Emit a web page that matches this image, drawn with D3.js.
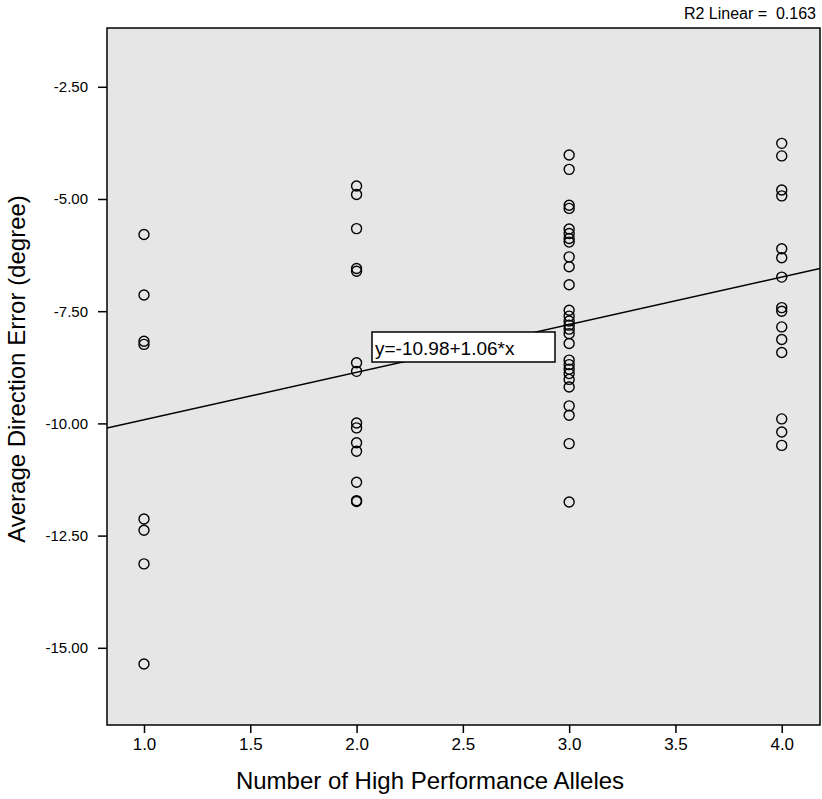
<!DOCTYPE html>
<html>
<head>
<meta charset="utf-8">
<script src="https://cdn.jsdelivr.net/npm/d3@7"></script>
<style>
  body { margin: 0; background: #fff; }
</style>
</head>
<body>
<svg id="viz"></svg>
<script>
/* Data */

const alleles1 = [-5.79, -7.14, -8.17, -8.24, -12.13, -12.38, -13.13, -15.36];
const alleles2 = [-4.71, -4.90, -5.66, -6.55, -6.61, -8.65, -8.84, -9.99, -10.10,
                  -10.43, -10.62, -11.31, -11.72, -11.74];
const alleles3 = [-4.02, -4.34, -5.14, -5.21, -5.67, -5.77, -5.88, -5.96, -6.29,
                  -6.51, -6.91, -7.48, -7.61, -7.72, -7.81, -7.90, -8.00, -8.22,
                  -8.59, -8.69, -8.79, -8.89, -9.02, -9.19, -9.61, -9.82, -10.45,
                  -11.75];
const alleles4 = [-3.76, -4.04, -4.80, -4.93, -6.11, -6.31, -6.74, -7.42, -7.50,
                  -7.85, -8.13, -8.42, -9.90, -10.19, -10.49];

const groups = [1, 2, 3, 4];
const xTicks = [1.0, 1.5, 2.0, 2.5, 3.0, 3.5, 4.0];
const yTicks = [-2.5, -5.0, -7.5, -10.0, -12.5, -15.0];

const intercept = -10.98;
const slope = 1.06;
const r2 = 0.163;

const points = [alleles1, alleles2, alleles3, alleles4]
    .flatMap((vals, i) => vals.map(v => ({x: groups[i], y: v})));

/* Environment */

const width = 822;
const height = 799;
const plot = {left: 107, top: 28, right: 820, bottom: 725};

// plain hyphen for negatives, like the original
const fmt = f => d => d3.format(f)(d).replace('\u2212', '-');

const svg = d3.select('#viz')
    .attr('width', width)
    .attr('height', height)
    .attr('font-family', 'Liberation Sans, Arial, sans-serif');

/* Scales */

const x = d3.scaleLinear()
    .domain([0.826, 4.18])
    .range([plot.left, plot.right]);

const y = d3.scaleLinear()
    .domain([-16.72, -1.19])
    .range([plot.bottom, plot.top]);

/* Plot area */

svg.append('rect')
    .attr('x', plot.left)
    .attr('y', plot.top)
    .attr('width', plot.right - plot.left)
    .attr('height', plot.bottom - plot.top)
    .attr('fill', '#e6e6e6');

/* Axis */

const gX = svg.append('g')
    .attr('transform', `translate(0,${plot.bottom})`)
    .call(d3.axisBottom(x).tickValues(xTicks).tickFormat(fmt('.1f')).tickSize(8).tickSizeOuter(0).tickPadding(5));

gX.select('.domain').remove();
gX.selectAll('line').attr('stroke-width', 1.5);
gX.selectAll('text')
    .attr('font-size', 17)
    .attr('fill', '#000');

const gY = svg.append('g')
    .attr('transform', `translate(${plot.left},0)`)
    .call(d3.axisLeft(y).tickValues(yTicks).tickFormat(fmt('.2f')).tickSize(9).tickSizeOuter(0).tickPadding(10));

gY.select('.domain').remove();
gY.selectAll('line').attr('stroke-width', 1.5);
gY.selectAll('text')
    .attr('font-size', 15)
    .attr('fill', '#000');

/* Regression line */

svg.append('clipPath').attr('id', 'clip')
    .append('rect')
    .attr('x', plot.left)
    .attr('y', plot.top)
    .attr('width', plot.right - plot.left)
    .attr('height', plot.bottom - plot.top);

const xd = x.domain();
svg.append('line')
    .attr('clip-path', 'url(#clip)')
    .attr('x1', x(xd[0]))
    .attr('y1', y(intercept + slope * xd[0]))
    .attr('x2', x(xd[1]))
    .attr('y2', y(intercept + slope * xd[1]))
    .attr('stroke', '#000')
    .attr('stroke-width', 1.5);

/* Points */

svg.append('g')
    .selectAll('circle')
    .data(points)
    .join('circle')
    .attr('cx', d => x(d.x))
    .attr('cy', d => y(d.y))
    .attr('r', 5)
    .attr('fill', 'none')
    .attr('stroke', '#000')
    .attr('stroke-width', 1.4);

/* Equation label */

const eq = svg.append('g').attr('transform', 'translate(372,332)');
eq.append('rect')
    .attr('width', 183)
    .attr('height', 30)
    .attr('fill', '#fff')
    .attr('stroke', '#000')
    .attr('stroke-width', 1.5);
eq.append('text')
    .attr('x', 3)
    .attr('y', 23)
    .attr('font-size', 19)
    .text(`y=${intercept}+${slope}*x`);

/* Frame */

svg.append('rect')
    .attr('x', plot.left)
    .attr('y', plot.top)
    .attr('width', plot.right - plot.left)
    .attr('height', plot.bottom - plot.top)
    .attr('fill', 'none')
    .attr('stroke', '#000')
    .attr('stroke-width', 1.5);

/* Titles */

svg.append('text')
    .attr('x', 430)
    .attr('y', 789)
    .attr('text-anchor', 'middle')
    .attr('font-size', 24)
    .text('Number of High Performance Alleles');

svg.append('text')
    .attr('transform', 'translate(25,369) rotate(-90)')
    .attr('text-anchor', 'middle')
    .attr('font-size', 24)
    .text('Average Direction Error (degree)');

svg.append('text')
    .attr('x', 816)
    .attr('y', 19)
    .attr('text-anchor', 'end')
    .attr('font-size', 16)
    .attr('xml:space', 'preserve')
    .text(`R2 Linear =  ${r2}`);
</script>
</body>
</html>
